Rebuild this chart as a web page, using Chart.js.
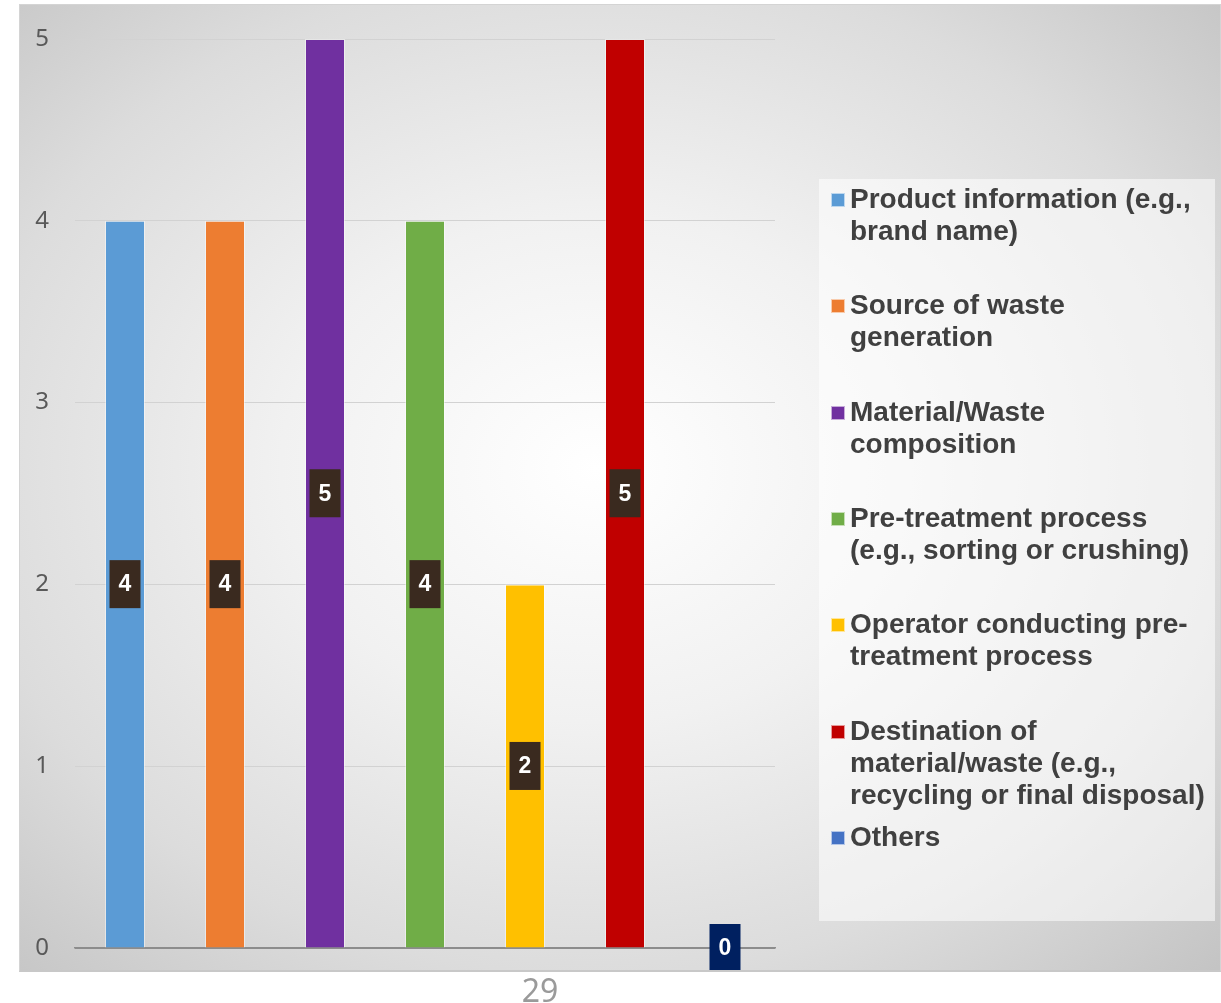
<!DOCTYPE html>
<html>
<head>
<meta charset="utf-8">
<script src="https://cdn.jsdelivr.net/npm/chart.js@4.4.1/dist/chart.umd.min.js"></script>
<style>
  html, body { margin: 0; padding: 0; background: #fff; }
  body { width: 1221px; height: 1003px; position: relative; overflow: hidden; }
  #marco {
    position: absolute; left: 19px; top: 4px; width: 1200px; height: 965px;
    border: 1px solid #d4d4d4; border-bottom: 2px solid #c8c8c8;
    background: radial-gradient(ellipse 75% 75% at 48% 48%, #ffffff 0%, #f1f1f1 35%, #dcdcdc 70%, #c2c2c2 100%);
  }
  #marco canvas { position: absolute; left: 0; top: 0; }
  #leyenda {
    position: absolute; left: 799px; top: 174px; width: 396px; height: 742px;
    background: rgba(255, 255, 255, 0.55);
  }
  .item { position: absolute; left: 12px; white-space: nowrap; font-family: "Liberation Sans", Arial, sans-serif; font-weight: bold; font-size: 28px; line-height: 32px; color: #404040; }
  .item .cuadro { position: absolute; left: 0; top: 10px; width: 14px; height: 14px; border: 1px solid rgba(255,255,255,0.6); box-sizing: border-box; }
  .item .texto { margin-left: 19px; }
  #pagina { position: absolute; left: 0; width: 1080px; top: 968px; text-align: center; font-family: "Noto Sans", sans-serif; font-size: 32px; color: #9a9a9a; }
</style>
</head>
<body>
<div id="marco">
  <canvas id="myChart" width="1200" height="965"></canvas>
  <div id="leyenda"></div>
</div>
<div id="pagina">29</div>
<script>
// categorias (cada una puede ir en varias lineas)
const categorias = [
  ['Product information (e.g.,', 'brand name)'],
  ['Source of waste', 'generation'],
  ['Material/Waste', 'composition'],
  ['Pre-treatment process', '(e.g., sorting or crushing)'],
  ['Operator conducting pre-', 'treatment process'],
  ['Destination of', 'material/waste (e.g.,', 'recycling or final disposal)'],
  ['Others']
];
const cantidades = [4, 4, 5, 4, 2, 5, 0];
const colores = ['#5b9bd5', '#ed7d31', '#7030a0', '#70ad47', '#ffc000', '#c00000', '#4472c4'];
const ticksY = [0, 1, 2, 3, 4, 5];

// etiqueta de valor dentro de cada barra
const etiquetas = {
  id: 'etiquetas',
  afterDatasetsDraw(chart) {
    const ctx = chart.ctx;
    const meta = chart.getDatasetMeta(0);
    ctx.save();
    ctx.font = 'bold 23px "Liberation Sans", Arial, sans-serif';
    ctx.textAlign = 'center';
    ctx.textBaseline = 'middle';
    meta.data.forEach((bar, i) => {
      const valor = cantidades[i];
      const yc = (bar.y + bar.base) / 2;
      ctx.fillStyle = valor === 0 ? '#002060' : '#3a2a1f';
      ctx.fillRect(bar.x - 15.5, yc - 24, 31, 48);
      ctx.fillStyle = '#ffffff';
      ctx.fillText(String(valor), bar.x, yc + 1);
    });
    ctx.restore();
  }
};

function grafico() {
  const ctx = document.getElementById('myChart');
  new Chart(ctx, {
    type: 'bar',
    data: {
      labels: categorias,
      datasets: [{
        data: cantidades,
        backgroundColor: colores,
        borderColor: 'rgba(255,255,255,0.45)',
        borderWidth: 1,
        barPercentage: 0.8,
        categoryPercentage: 0.5
      }]
    },
    options: {
      responsive: false,
      animation: false,
      layout: { padding: { top: 34, right: 445, bottom: 22, left: 0 } },
      plugins: {
        legend: { display: false },
        tooltip: { enabled: false }
      },
      scales: {
        x: {
          afterFit: (scale) => { scale.height = 0; },
          grid: { display: false },
          border: { color: '#8c8c8c', width: 1.5 },
          ticks: { display: false }
        },
        y: {
          min: 0,
          max: 5,
          // ancho fijo y sin relleno extra arriba/abajo por las etiquetas
          afterFit: (scale) => {
            scale.width = 55;
            scale.paddingTop = 0;
            scale.paddingBottom = 0;
          },
          afterBuildTicks: (scale) => { scale.ticks = ticksY.map(v => ({ value: v })); },
          border: { display: false },
          grid: {
            drawTicks: false,
            color: (c) => c.tick && c.tick.value === 0 ? '#8c8c8c' : '#d2d2d2'
          },
          ticks: {
            padding: 26,
            color: '#595959',
            font: { family: 'Noto Sans', size: 24 }
          }
        }
      }
    },
    plugins: [etiquetas]
  });
}

function leyenda() {
  const caja = document.getElementById('leyenda');
  categorias.forEach((lineas, i) => {
    caja.innerHTML += `
      <div class="item" style="top:${4 + i * 106.3}px">
        <span class="cuadro" style="background:${colores[i]}"></span>
        <div class="texto">${lineas.join('<br>')}</div>
      </div>`;
  });
}

grafico();
leyenda();
</script>
</body>
</html>
